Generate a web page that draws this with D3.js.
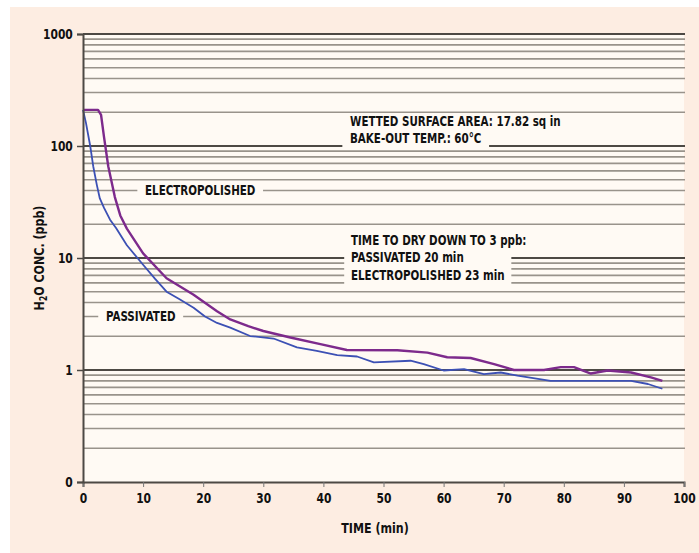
<!DOCTYPE html>
<html>
<head>
<meta charset="utf-8">
<script src="https://cdn.jsdelivr.net/npm/d3@7/dist/d3.min.js"></script>
<style>
  body { margin: 0; background: #ffffff; }
  text { font-family: "DejaVu Sans Condensed", "Liberation Sans Narrow", sans-serif; font-weight: bold; font-stretch: condensed; fill: #111; }
</style>
</head>
<body>
<script>
// time (min) and H2O concentration (ppb)
const passivatedTime = [0, 0.5, 1.2, 1.7, 2.3, 2.8, 3.5, 4.5, 5.5, 7.3, 10, 12, 13.9, 16, 18.4, 20.3, 22.3, 24.5, 27.8, 31.7, 35.6, 38.9, 42.3, 45.6, 48.4, 54.5, 56.7, 60, 63.4, 66.7, 69.5, 72.3, 77.8, 91.2, 94, 96.4];
const passivatedConc = [210, 160, 100, 66, 45, 34, 28, 22, 18.5, 13, 8.7, 6.5, 5.0, 4.3, 3.6, 3.0, 2.63, 2.39, 2.01, 1.91, 1.59, 1.48, 1.36, 1.32, 1.17, 1.21, 1.13, 0.99, 1.02, 0.92, 0.95, 0.89, 0.80, 0.80, 0.75, 0.68];
const electroTime = [0, 2.5, 3.0, 3.5, 4.2, 5.3, 6.2, 7.3, 10, 13.9, 18.4, 22.3, 24.5, 27.5, 30, 34.5, 39.5, 43.9, 52.3, 57.3, 60.6, 64.5, 68.4, 71.7, 76.7, 79.5, 81.7, 84.5, 87.3, 91.2, 94.5, 96.4];
const electroConc = [210, 210, 190, 120, 66, 35, 24, 18.3, 11, 6.6, 4.7, 3.34, 2.83, 2.46, 2.23, 1.95, 1.70, 1.51, 1.50, 1.43, 1.30, 1.28, 1.13, 1.0, 1.0, 1.06, 1.06, 0.93, 0.99, 0.95, 0.86, 0.80];

const xTicks = [0, 10, 20, 30, 40, 50, 60, 70, 80, 90, 100];
const yTicks = [0.1, 1, 10, 100, 1000];
const yTickLabels = ["0", "1", "10", "100", "1000"];

const width = 699, height = 553;
const squeeze = "scale(0.85,1)";   // narrow the condensed face a bit more
const svg = d3.select("body").append("svg")
    .attr("width", width)
    .attr("height", height);

// peach panel
svg.append("rect").attr("x", 10).attr("y", 7).attr("width", width - 10).attr("height", height - 7).attr("fill", "#fdede2");

const x = d3.scaleLinear().domain([0, 100]).range([83, 684]);
const y = d3.scaleLog().domain([0.1, 1000]).range([482, 34]);

svg.append("rect")
    .attr("x", x(0)).attr("y", y(1000))
    .attr("width", x(100) - x(0)).attr("height", y(0.1) - y(1000))
    .attr("fill", "#fffaf4");

// grid: every 1..9 within each decade
let gridVals = [];
[0.1, 1, 10, 100].forEach(d => { for (let k = 1; k <= 9; k++) gridVals.push(+(k * d).toPrecision(3)); });
gridVals.push(1000);
gridVals = gridVals.filter(v => v > 0.1);
const isDecade = v => yTicks.includes(v);

svg.append("g").selectAll("line").data(gridVals).enter()
    .append("line")
    .attr("x1", x(0)).attr("x2", x(100) + 1)
    .attr("y1", d => y(d)).attr("y2", d => y(d))
    .attr("stroke", d => isDecade(d) ? "#4d4944" : "#99938b")
    .attr("stroke-width", d => isDecade(d) ? 2 : 1.6);

// annotation blocks; first line gets its own background, the rest share one
function block(lines, x0, y0, step, padX, splitAll) {
    const g = svg.append("g").attr("transform", "translate(" + x0 + "," + y0 + ") " + squeeze);
    const groups = splitAll ? lines.map(l => [l]) : [lines.slice(0, 1), lines.slice(1)];
    let i = 0;
    groups.forEach(grp => {
        const sub = g.append("g");
        const bg = sub.append("rect").attr("fill", "#fffaf4");
        grp.forEach(t => {
            sub.append("text").attr("x", 0).attr("y", i * step).style("font-size", "13.5px").text(t);
            i++;
        });
        const bb = sub.node().getBBox();
        bg.attr("x", bb.x - padX).attr("y", bb.y + 1).attr("width", bb.width + 2 * padX).attr("height", bb.height + 1);
    });
}
block(["WETTED SURFACE AREA: 17.82 sq in", "BAKE-OUT TEMP.:  60°C"], 350, 126, 17.5, 9, true);
block(["TIME TO DRY DOWN TO 3 ppb:", "PASSIVATED 20 min", "ELECTROPOLISHED 23 min"], 351, 245, 17.5, 8, false);

function label(t, cx, v) {
    const g = svg.append("g").attr("transform", "translate(" + x(cx) + "," + y(v) + ") " + squeeze);
    const bg = g.append("rect").attr("fill", "#fffaf4");
    g.append("text").attr("dy", "0.36em")
        .attr("text-anchor", "middle").style("font-size", "13.5px").text(t);
    const bb = g.node().getBBox();
    bg.attr("x", bb.x - 9).attr("y", bb.y).attr("width", bb.width + 18).attr("height", bb.height);
}
label("ELECTROPOLISHED", 19.5, 40);
label("PASSIVATED", 9.6, 3);

// curves
const line = d3.line().x(d => x(d[0])).y(d => y(d[1]));
svg.append("path")
    .datum(d3.zip(passivatedTime, passivatedConc))
    .attr("d", line)
    .attr("fill", "none").attr("stroke", "#3c50b4").attr("stroke-width", 1.8)
    .attr("stroke-linejoin", "round");
svg.append("path")
    .datum(d3.zip(electroTime, electroConc))
    .attr("d", line)
    .attr("fill", "none").attr("stroke", "#7d2a8c").attr("stroke-width", 2.4)
    .attr("stroke-linejoin", "round");

// axes
const xaxis = d3.axisBottom(x).tickValues(xTicks).tickSize(5).tickPadding(6).tickFormat(d3.format("d"));
const yaxis = d3.axisLeft(y).tickValues(yTicks).tickSize(6).tickPadding(5).tickFormat((d, i) => yTickLabels[i]);

const gx = svg.append("g").attr("transform", "translate(0," + y(0.1) + ")").call(xaxis);
const gy = svg.append("g").attr("transform", "translate(" + x(0) + ",0)").call(yaxis);
[gx, gy].forEach(g => {
    g.select(".domain").attr("stroke", "#4d4944").attr("stroke-width", 2);
    g.selectAll(".tick line").attr("stroke", "#4d4944").attr("stroke-width", 1.5);
    g.selectAll(".tick text").style("font-size", "14px").style("font-family", null).attr("fill", "#111");
});
gx.selectAll(".tick line").attr("stroke-width", 1).attr("stroke", "#777");
gx.selectAll(".tick text").attr("transform", squeeze);
gy.selectAll(".tick text").attr("transform", squeeze).attr("x", -12);

svg.append("text")
    .attr("transform", "translate(375,533) " + squeeze)
    .attr("text-anchor", "middle").style("font-size", "14.5px")
    .text("TIME (min)");

const yl = svg.append("text")
    .attr("transform", "translate(44,258) rotate(-90) " + squeeze)
    .attr("text-anchor", "middle").style("font-size", "14.5px");
yl.append("tspan").text("H");
yl.append("tspan").attr("dy", 3).style("font-size", "10px").text("2");
yl.append("tspan").attr("dy", -3).text("O CONC. (ppb)");
</script>
</body>
</html>
